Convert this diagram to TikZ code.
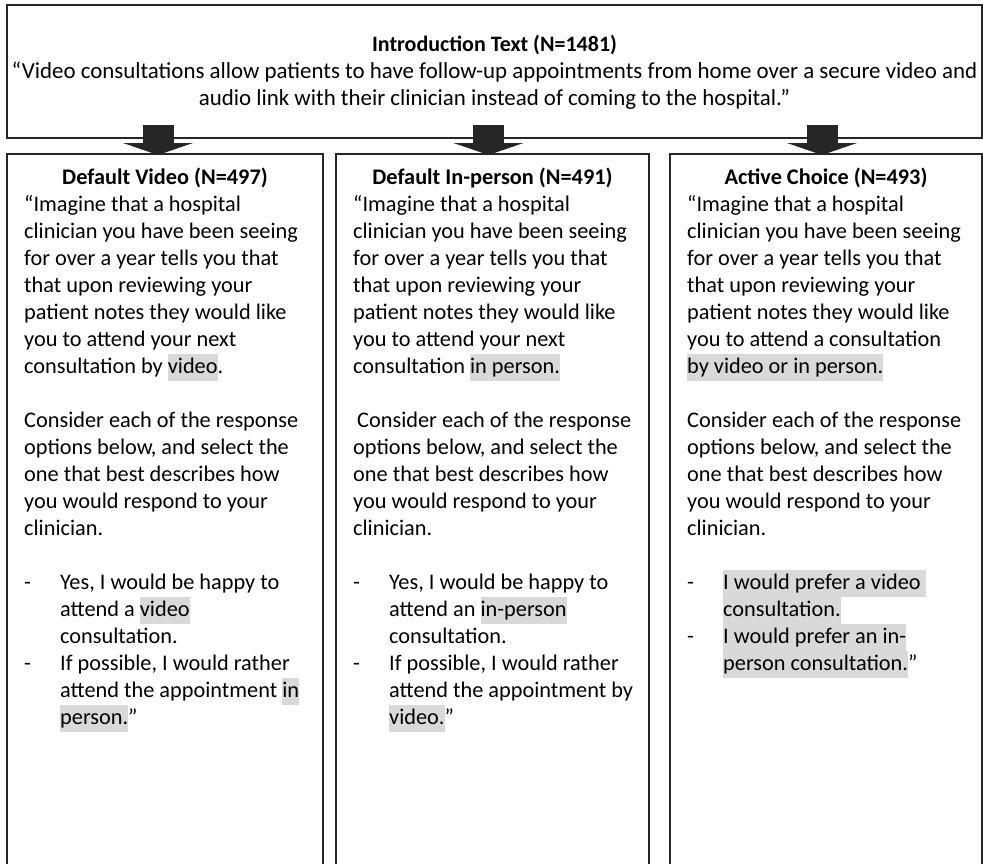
\documentclass[tikz,border=0pt]{standalone}
\usepackage{fontspec}
\setmainfont{Carlito}
\usepackage{xcolor}
\usetikzlibrary{positioning,arrows.meta}

\definecolor{framegray}{HTML}{262626}
\definecolor{hlgray}{HTML}{D9D9D9}
\newcommand{\hlt}[1]{{\setlength{\fboxsep}{0pt}\colorbox{hlgray}{\strut #1}}}
\newcommand{\dashitem}{\makebox[36pt][l]{-}}
\newcommand{\indentitem}{\hspace*{36pt}}

\begin{document}
\begin{tikzpicture}[x=1pt,y=-1pt,
    panel/.style={draw=framegray,line width=1.6pt,outer sep=0pt,inner sep=0pt,anchor=north west},
    heading/.style={font=\fontsize{22.3}{27}\selectfont\bfseries,anchor=base,inner sep=0pt},
    body/.style={font=\fontsize{22.3}{27}\selectfont,align=left,inner sep=0pt},
    blockarrow/.style={line width=31pt,draw=framegray,-{Triangle[width=70pt,length=12pt,line width=0pt]}}]
  \useasboundingbox (0,0) rectangle (983,863);
  \clip (0,0) rectangle (983,863);
  % intro box
  \node[panel,minimum width=975pt,minimum height=133pt] (intro) at (7,5) {};
  \node[body,align=center,below=27.1pt of intro.north,font=\fontsize{22.9}{27}\selectfont] (introtxt) {\strut{\fontsize{22}{27}\selectfont\bfseries Introduction Text (N=1481)}\\
    “Video consultations allow patients to have follow-up appointments from home over a secure video and\\
    audio link with their clinician instead of coming to the hospital.”};
  % three arms
  \node[panel,minimum width=316pt,minimum height=730pt] (vid) at (7,154) {};
  \node[panel,minimum width=313pt,minimum height=730pt] (inp) at (336,154) {};
  \node[panel,minimum width=312pt,minimum height=730pt] (act) at (670,154) {};
  \node[heading] (vidT) at ([yshift=-30pt]vid.north) {Default Video (N=497)};
  \node[heading] (inpT) at ([yshift=-30pt]inp.north) {Default In-person (N=491)};
  \node[heading] (actT) at ([yshift=-30pt]act.north) {Active Choice (N=493)};
  \node[body,below right=38.1pt and 17pt of vid.north west] (vidB) {\strut“Imagine that a hospital\\
    clinician you have been seeing\\
    for over a year tells you that\\
    that upon reviewing your\\
    patient notes they would like\\
    you to attend your next\\
    consultation by \hlt{video}.\\[27pt]
    Consider each of the response\\
    options below, and select the\\
    one that best describes how\\
    you would respond to your\\
    clinician.\\[27pt]
    \dashitem Yes, I would be happy to\\
    \indentitem attend a \hlt{video}\\
    \indentitem consultation.\\
    \dashitem If possible, I would rather\\
    \indentitem attend the appointment \hlt{in}\\
    \indentitem\hlt{person.}”};
  \node[body,below right=38.1pt and 17pt of inp.north west] (inpB) {\strut“Imagine that a hospital\\
    clinician you have been seeing\\
    for over a year tells you that\\
    that upon reviewing your\\
    patient notes they would like\\
    you to attend your next\\
    consultation \hlt{in person.}\\[27pt]
    \hspace*{4pt}Consider each of the response\\
    options below, and select the\\
    one that best describes how\\
    you would respond to your\\
    clinician.\\[27pt]
    \dashitem Yes, I would be happy to\\
    \indentitem attend an \hlt{in-person}\\
    \indentitem consultation.\\
    \dashitem If possible, I would rather\\
    \indentitem attend the appointment by\\
    \indentitem\hlt{video.}”};
  \node[body,below right=38.1pt and 17pt of act.north west] (actB) {\strut“Imagine that a hospital\\
    clinician you have been seeing\\
    for over a year tells you that\\
    that upon reviewing your\\
    patient notes they would like\\
    you to attend a consultation\\
    \hlt{by video or in person.}\\[27pt]
    Consider each of the response\\
    options below, and select the\\
    one that best describes how\\
    you would respond to your\\
    clinician.\\[27pt]
    \dashitem\hlt{I would prefer a video }\\
    \indentitem\hlt{consultation.}\\
    \dashitem\hlt{I would prefer an in-}\\
    \indentitem\hlt{person consultation.}”};
  % block arrows
  \draw[blockarrow] ([xshift=-7pt,yshift=13pt]intro.south -| vid.north) -- ([xshift=-7pt,yshift=-1pt]vid.north);
  \draw[blockarrow] ([xshift=-4pt,yshift=13pt]intro.south -| inp.north) -- ([xshift=-4pt,yshift=-1pt]inp.north);
  \draw[blockarrow] ([xshift=-4pt,yshift=13pt]intro.south -| act.north) -- ([xshift=-4pt,yshift=-1pt]act.north);
\end{tikzpicture}
\end{document}
